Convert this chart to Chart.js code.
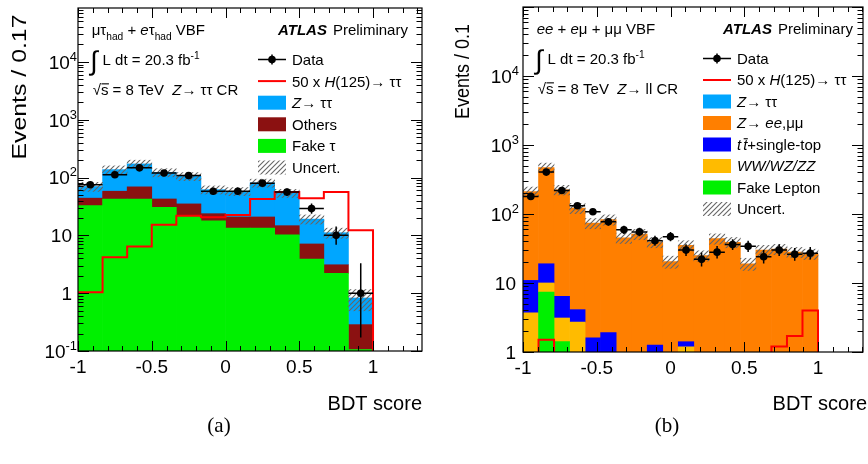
<!DOCTYPE html>
<html>
<head>
<meta charset="utf-8">
<title>BDT score in the Z control regions</title>
<script src="https://cdn.jsdelivr.net/npm/chart.js@4.4.1/dist/chart.umd.min.js"></script>
<style>
  body { margin: 0; background: #fff; }
  #page { position: relative; width: 868px; height: 464px; overflow: hidden; }
  .panel { position: absolute; top: 0; width: 434px; height: 420px; }
  .caption { position: absolute; top: 413px; width: 60px; margin-left: -30px; text-align: center;
             font: 21px "Liberation Serif", "DejaVu Serif", serif; color: #000; }
</style>
</head>
<body>
<div id="page">
  <div class="panel" style="left:0"><canvas id="chartA"></canvas></div>
  <div class="panel" style="left:434px"><canvas id="chartB"></canvas></div>
  <div class="caption" style="left:219px">(a)</div>
  <div class="caption" style="left:667px">(b)</div>
</div>
<script>
// (a) mu-tau_had + e-tau_had VBF, Z->tautau CR: 12 bins of BDT score in [-1, 1]
const aFakeTau = [32.6, 42.6, 42.6, 30.5, 21.9, 17.9, 13.4, 13.4, 10.2, 3.9, 2.2, 0.105];
const aOthers  = [11.4, 15.4, 26.4, 12.1, 13.1, 5.8, 7.4, 7.4, 4.5, 3.2, 0.9, 0.18];
const aZtautau = [26, 79, 103, 80, 70, 38, 37, 60, 39, 12, 8, 0.54];
const aData    = [75, 112, 147, 120, 108, 58, 58, 80, 56, 29, 10, 1];
const aSignal  = [1.04, 4.2, 6.4, 15.3, 21.9, 20.5, 22.5, 42.6, 56, 44, 56, 12.2];   // 50 x H(125)
const aUncert  = [0.18, 0.16, 0.16, 0.16, 0.16, 0.16, 0.16, 0.16, 0.16, 0.18, 0.2, 0.4]; // relative
const aYLabels = [0.1, 1, 10, 100, 1000, 10000];

// (b) ee + e-mu + mu-mu VBF, Z->ll CR: 19 bins in [-1, 1]
const bFakeLep  = [0, 7.4, 1.4, 0, 0, 0, 0, 0, 0, 0, 0, 0, 0, 0, 0, 0, 0, 0, 0];
const bDiboson  = [3.7, 2.6, 1.7, 2.7, 0, 0, 0, 0, 0, 0, 1.18, 0, 0, 0, 0, 0, 0, 0, 0];
const bTop      = [7.2, 9, 3.3, 1.4, 1.6, 1.9, 0, 0, 1.25, 0, 0.22, 0, 0, 0, 0, 0, 0, 0, 0];
const bZll      = [201, 452, 218, 118, 72, 81, 45, 51, 37.8, 20.4, 33.6, 25, 44, 39, 19, 30, 31, 28, 26.4];
const bZtautau  = [0, 0, 0, 0, 0, 0, 0, 0, 0, 0, 0, 0, 0, 0, 0, 0, 0, 0, 0];
const bData     = [180, 405, 219, 132, 108, 77, 59, 55, 41, 47, 30, 22, 28, 36, 34, 24, 30, 26, 27];
const bSignal   = [0.4, 1.5, 0.5, 0.4, 0.3, 0.3, 0.3, 0.3, 0.3, 0.3, 0.4, 0.4, 0.4, 0.5, 0.6, 0.8, 1.2, 1.7, 4.0];
const bUncert   = [0.16, 0.16, 0.16, 0.17, 0.17, 0.17, 0.17, 0.17, 0.17, 0.2, 0.17, 0.17, 0.17, 0.17, 0.2, 0.17, 0.17, 0.17, 0.17];
const bYLabels  = [1, 10, 100, 1000, 10000];

const xTickLabels = [-1, -0.5, 0, 0.5, 1];

const FAM = '"Liberation Sans", Arial, Helvetica, sans-serif';

// grey "////" fill used for the uncertainty band
function makeHatch() {
  const c = document.createElement('canvas');
  c.width = 5; c.height = 5;
  const g = c.getContext('2d');
  g.strokeStyle = '#666';
  g.lineWidth = 1.1;
  g.beginPath();
  g.moveTo(0, 5); g.lineTo(5, 0);
  g.moveTo(-1, 1); g.lineTo(1, -1);
  g.moveTo(4, 6); g.lineTo(6, 4);
  g.stroke();
  return g.createPattern(c, 'repeat');
}
const hatch = makeHatch();

// text with italics, sub/superscripts and overlines
function drawRich(ctx, parts, x, y, size, align) {
  const items = parts.map(p => {
    const s = size * (p.sub || p.sup ? 0.68 : 1) * (p.big || 1);
    const font = (p.i ? 'italic ' : '') + (p.b ? 'bold ' : '') + s + 'px ' + FAM;
    ctx.font = font;
    return { p, font, w: p.t ? ctx.measureText(p.t).width : 0,
             dy: p.sub ? 0.28 * size : p.sup ? -0.42 * size : (p.dy || 0) };
  });
  const total = items.reduce((a, it) => a + it.w + (it.p.gap || 0), 0);
  let cx = align === 'right' ? x - total : x;
  ctx.textAlign = 'left';
  ctx.textBaseline = 'alphabetic';
  for (const it of items) {
    cx += it.p.gap || 0;
    if (it.p.t) {
      ctx.font = it.font;
      ctx.fillText(it.p.t, cx, y + it.dy);
      if (it.p.over) ctx.fillRect(cx + 0.5, y - 0.78 * size, it.w, 1.1);
    }
    cx += it.w;
  }
  return total;
}

function poissonLo(n) {
  if (n <= 0) return 0;
  return n * Math.pow(1 - 1 / (9 * n) - 1 / (3 * Math.sqrt(n)), 3);
}
function poissonHi(n) {
  const m = n + 1;
  return m * Math.pow(1 - 1 / (9 * m) + 1 / (3 * Math.sqrt(m)), 3);
}

function makeDecor(p, edges, width) {
  return {
    id: 'decor',
    // error bars under the data markers
    beforeDatasetDraw(chart, args) {
      if (args.index !== 0) return;
      const ctx = chart.ctx, xs = chart.scales.x, ys = chart.scales.y, ca = chart.chartArea;
      ctx.save();
      ctx.beginPath();
      ctx.rect(ca.left, ca.top, ca.width, ca.height);
      ctx.clip();
      ctx.strokeStyle = '#000';
      ctx.lineWidth = 1.5;
      p.data.forEach((n, i) => {
        const px = xs.getPixelForValue(edges[i] + width / 2);
        const py = ys.getPixelForValue(n);
        ctx.beginPath();
        ctx.moveTo(xs.getPixelForValue(edges[i]), py);
        ctx.lineTo(xs.getPixelForValue(edges[i] + width), py);
        const lo = poissonLo(n);
        ctx.moveTo(px, lo > 0 ? ys.getPixelForValue(lo) : ca.bottom);
        ctx.lineTo(px, ys.getPixelForValue(poissonHi(n)));
        ctx.stroke();
      });
      ctx.restore();
    },
    afterDraw(chart) {
      const ctx = chart.ctx, xs = chart.scales.x, ys = chart.scales.y, ca = chart.chartArea;
      ctx.save();
      ctx.fillStyle = '#000';
      ctx.strokeStyle = '#000';

      // ticks on all four sides
      ctx.lineWidth = 1;
      ctx.beginPath();
      for (let i = 0; -1 + i / 10 <= p.xMax + 1e-9; i++) {
        const px = Math.round(xs.getPixelForValue(-1 + i / 10)) + 0.5;
        const len = i % 5 === 0 ? 10 : 5;
        ctx.moveTo(px, ca.bottom); ctx.lineTo(px, ca.bottom - len);
        ctx.moveTo(px, ca.top); ctx.lineTo(px, ca.top + len);
      }
      const d0 = Math.floor(Math.log10(p.yMin)), d1 = Math.ceil(Math.log10(p.yMax));
      for (let d = d0; d <= d1; d++) {
        for (let k = 1; k <= 9; k++) {
          const v = k * Math.pow(10, d);
          if (v < p.yMin * 0.999 || v > p.yMax) continue;
          const py = Math.round(ys.getPixelForValue(v)) + 0.5;
          const len = k === 1 ? 11 : 5.5;
          ctx.moveTo(ca.left, py); ctx.lineTo(ca.left + len, py);
          ctx.moveTo(ca.right, py); ctx.lineTo(ca.right - len, py);
        }
      }
      ctx.stroke();
      ctx.lineWidth = 1.2;
      ctx.strokeRect(ca.left, ca.top, ca.width, ca.height);

      // y tick labels
      p.yLabels.forEach(v => {
        const py = ys.getPixelForValue(v) + 0.36 * 19;
        const e = Math.round(Math.log10(v));
        if (e === 0 || e === 1) {
          drawRich(ctx, [{ t: String(v) }], ca.left - p.plainGap, py, 19, 'right');
        } else {
          drawRich(ctx, [{ t: '10' }, { t: String(e), sup: 1 }], ca.left - p.expGap, py, 19, 'right');
        }
      });

      // axis titles
      drawRich(ctx, [{ t: 'BDT score' }], p.xTitleRight, 410, 20, 'right');
      ctx.save();
      ctx.font = p.yTitleSize + 'px ' + FAM;
      const tw = ctx.measureText(p.yTitle).width;
      ctx.translate(p.yTitleX, p.yTitleY);
      ctx.rotate(-Math.PI / 2);
      ctx.scale(p.yTitleLen / tw, 1);
      ctx.textAlign = 'center';
      ctx.textBaseline = 'middle';
      ctx.fillText(p.yTitle, 0, 0);
      ctx.restore();

      // labels inside the frame
      const L = ca.left, T = ca.top;
      drawRich(ctx, p.channel, L + 13.7, T + 27.4, 15);
      drawRich(ctx, [{ t: 'ATLAS', b: 1, i: 1 }, { t: 'Preliminary', gap: 6 }], L + 200, T + 27.4, 15);
      drawRich(ctx, [{ t: '∫', big: 1.8, dy: 4.5 }, { t: 'L dt = 20.3 fb', gap: 5 }, { t: '-1', sup: 1 }], L + 12.2, T + 57.4, 15);
      drawRich(ctx, p.region, L + 14.7, T + 87, 15);

      // legend
      p.legend.forEach((e, r) => {
        const cy = T + 51.5 + r * p.legendStep;
        const sx = L + 180, sw = 28;
        if (e.kind === 'data') {
          ctx.lineWidth = 1.5;
          ctx.beginPath();
          ctx.moveTo(sx, cy); ctx.lineTo(sx + sw, cy);
          ctx.moveTo(sx + sw / 2, cy - 5); ctx.lineTo(sx + sw / 2, cy + 5);
          ctx.stroke();
          ctx.beginPath();
          ctx.arc(sx + sw / 2, cy, 3.8, 0, Math.PI * 2);
          ctx.fill();
        } else if (e.kind === 'line') {
          ctx.save();
          ctx.strokeStyle = e.color;
          ctx.lineWidth = 2;
          ctx.beginPath();
          ctx.moveTo(sx, cy); ctx.lineTo(sx + sw, cy);
          ctx.stroke();
          ctx.restore();
        } else {
          ctx.save();
          ctx.fillStyle = e.kind === 'hatch' ? hatch : e.color;
          ctx.fillRect(sx, cy - 7, sw, 14);
          ctx.restore();
        }
        drawRich(ctx, e.label, L + 214, cy + 5.4, 15);
      });
      ctx.restore();
    }
  };
}

function makePanel(id, p) {
  const n = p.data.length, w = 2 / n;
  const centers = p.data.map((_, i) => -1 + (i + 0.5) * w);
  const edges = p.data.map((_, i) => -1 + i * w);
  const floor = p.yMin / 100;

  const cum = p.data.map(() => floor);
  const stackSets = p.stack.map((s, k) => ({
    type: 'bar',
    label: s.name,
    data: s.values.map((v, i) => {
      const lo = cum[i];
      cum[i] += v;
      return { x: centers[i], y: v > 0 ? [lo, cum[i]] : null };
    }),
    backgroundColor: s.color,
    borderWidth: 0,
    grouped: false,
    barPercentage: 1,
    categoryPercentage: 1,
    order: 10 + k
  }));

  const uncSet = {
    type: 'bar',
    label: 'Uncert.',
    data: cum.map((t, i) => ({ x: centers[i], y: [t * (1 - p.uncert[i]), t * (1 + p.uncert[i])] })),
    backgroundColor: hatch,
    borderWidth: 0,
    grouped: false,
    barPercentage: 1,
    categoryPercentage: 1,
    order: 2
  };

  const sigPts = p.signal.map((v, i) => ({ x: edges[i], y: v }));
  sigPts.push({ x: 1, y: floor });
  const sigSet = {
    type: 'line',
    label: '50 x H(125)',
    data: sigPts,
    stepped: 'before',
    borderColor: '#ff0000',
    borderWidth: 2,
    pointRadius: 0,
    fill: false,
    order: 1
  };

  const dataSet = {
    type: 'line',
    label: 'Data',
    data: p.data.map((v, i) => ({ x: centers[i], y: v })),
    showLine: false,
    pointRadius: 3.8,
    pointBackgroundColor: '#000',
    pointBorderColor: '#000',
    pointBorderWidth: 0,
    order: 0
  };

  p.legend = [
    { kind: 'data', label: [{ t: 'Data' }] },
    { kind: 'line', color: '#ff0000', label: [{ t: '50 x ' }, { t: 'H', i: 1 }, { t: '(125)→ ττ' }] }
  ].concat(p.stack.slice().reverse().map(s => ({ kind: 'box', color: s.color, label: s.label })))
   .concat([{ kind: 'hatch', label: [{ t: 'Uncert.' }] }]);

  new Chart(document.getElementById(id), {
    type: 'bar',
    data: { datasets: [dataSet, sigSet, uncSet].concat(stackSets) },
    options: {
      responsive: true,
      maintainAspectRatio: false,
      animation: false,
      layout: { padding: { left: 0, right: p.padRight, top: p.padTop, bottom: 0 } },
      plugins: { legend: { display: false }, tooltip: { enabled: false } },
      scales: {
        x: {
          type: 'linear',
          min: -1,
          max: p.xMax,
          offset: false,
          grid: { display: false, drawTicks: false },
          border: { display: false },
          afterBuildTicks: s => { s.ticks = xTickLabels.map(v => ({ value: v })); },
          afterFit: s => { s.height = p.xAxisHeight; },
          ticks: {
            font: { family: FAM, size: 19 },
            color: '#000',
            padding: 5,
            maxRotation: 0,
            autoSkip: false,
            callback: v => String(v)
          }
        },
        y: {
          type: 'logarithmic',
          min: p.yMin,
          max: p.yMax,
          grid: { display: false, drawTicks: false },
          border: { display: false },
          ticks: { display: false },
          afterFit: s => { s.width = p.yAxisWidth; }
        }
      }
    },
    plugins: [makeDecor(p, edges, w)]
  });
}

makePanel('chartA', {
  data: aData, signal: aSignal, uncert: aUncert, yLabels: aYLabels,
  stack: [
    { name: 'Fake tau', color: '#00f000', values: aFakeTau, label: [{ t: 'Fake τ' }] },
    { name: 'Others', color: '#8b1111', values: aOthers, label: [{ t: 'Others' }] },
    { name: 'Z->tautau', color: '#00a6ff', values: aZtautau, label: [{ t: 'Z', i: 1 }, { t: '→ ττ' }] }
  ],
  channel: [{ t: 'μτ' }, { t: 'had', sub: 1 }, { t: ' + ' }, { t: 'e', i: 1 }, { t: 'τ' }, { t: 'had', sub: 1 }, { t: ' VBF' }],
  region: [{ t: '√' }, { t: 's', over: 1 }, { t: ' = 8 TeV  ' }, { t: 'Z', i: 1 }, { t: '→ ττ CR' }],
  xMax: 1.332, yMin: 0.1, yMax: 85500,
  padTop: 8, padRight: 12, yAxisWidth: 78, xAxisHeight: 69,
  plainGap: 6, expGap: 1, legendStep: 21.6,
  xTitleRight: 422,
  yTitle: 'Events / 0.17', yTitleSize: 21, yTitleX: 20.5, yTitleY: 87, yTitleLen: 145
});

makePanel('chartB', {
  data: bData, signal: bSignal, uncert: bUncert, yLabels: bYLabels,
  stack: [
    { name: 'Fake lepton', color: '#00f000', values: bFakeLep, label: [{ t: 'Fake Lepton' }] },
    { name: 'Diboson', color: '#ffbb00', values: bDiboson, label: [{ t: 'WW/WZ/ZZ', i: 1 }] },
    { name: 'Top', color: '#0000ff', values: bTop, label: [{ t: 't', i: 1 }, { t: 't', i: 1, over: 1, gap: 2 }, { t: '+single-top' }] },
    { name: 'Z->ll', color: '#ff7f00', values: bZll, label: [{ t: 'Z', i: 1 }, { t: '→ ' }, { t: 'ee', i: 1 }, { t: ',μμ' }] },
    { name: 'Z->tautau', color: '#00a6ff', values: bZtautau, label: [{ t: 'Z', i: 1 }, { t: '→ ττ' }] }
  ],
  channel: [{ t: 'ee', i: 1 }, { t: ' + ' }, { t: 'e', i: 1 }, { t: 'μ + μμ VBF' }],
  region: [{ t: '√' }, { t: 's', over: 1 }, { t: ' = 8 TeV  ' }, { t: 'Z', i: 1 }, { t: '→ ll CR' }],
  xMax: 1.305, yMin: 1, yMax: 100000,
  padTop: 7, padRight: 5, yAxisWidth: 89, xAxisHeight: 68,
  plainGap: 7, expGap: 4, legendStep: 21.5,
  xTitleRight: 433,
  yTitle: 'Events / 0.1', yTitleSize: 20, yTitleX: 29, yTitleY: 71.5, yTitleLen: 95
});
</script>
</body>
</html>
